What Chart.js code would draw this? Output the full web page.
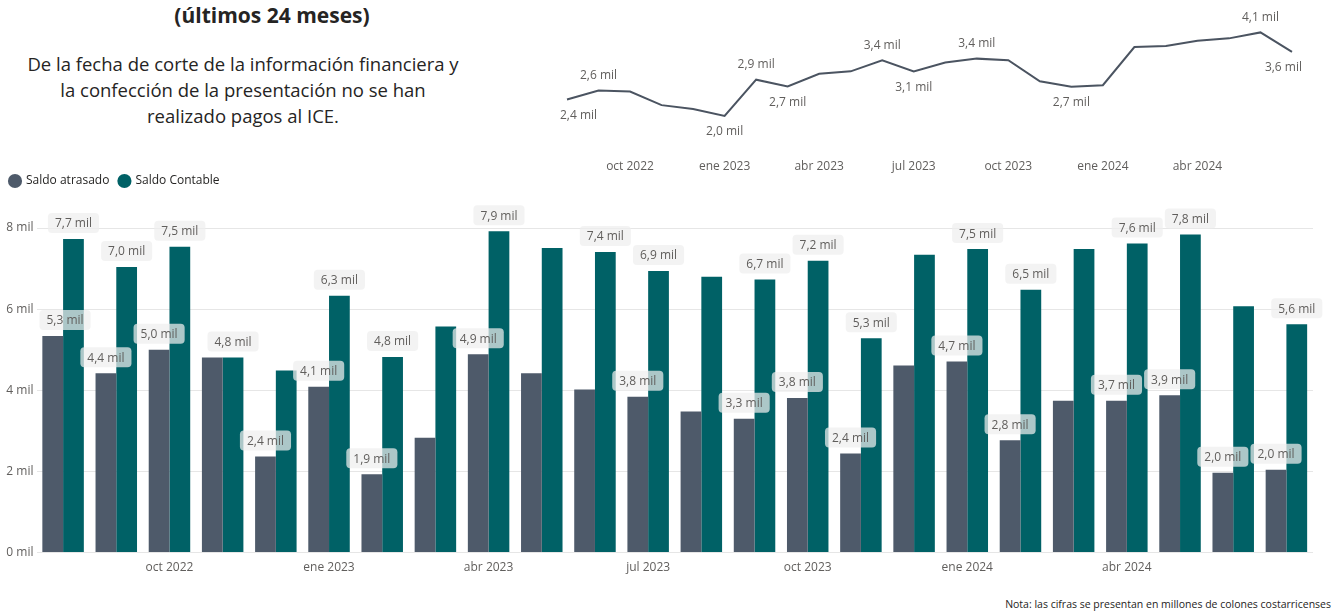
<!DOCTYPE html>
<html lang="es">
<head>
  <meta charset="UTF-8">
  <title>Saldo atrasado y Saldo Contable (últimos 24 meses)</title>
  <script src="https://cdn.jsdelivr.net/npm/chart.js"></script>
  <style>
    body { margin: 0; background: #ffffff; font-family: 'Segoe UI', 'Open Sans', sans-serif; }
    .page { position: relative; width: 1338px; height: 614px; overflow: hidden; }
    .titulo { position: absolute; left: 100px; width: 344px; top: 1px; text-align: center; font-size: 21px; font-weight: bold; color: #252423; }
    .texto { position: absolute; left: 0; width: 486px; top: 51px; text-align: center; font-size: 18.5px; line-height: 26px; color: #252423; }
    .nota { position: absolute; right: 7px; top: 597px; font-size: 10.5px; color: #252423; }
    #lineaCanvas { position: absolute; left: 540px; top: 0; }
    #barrasCanvas { position: absolute; left: 0; top: 165px; }
  </style>
</head>
<body>
<div class="page">
  <div class="titulo">(últimos 24 meses)</div>
  <div class="texto">De la fecha de corte de la información financiera y<br>la confección de la presentación no se han<br>realizado pagos al ICE.</div>
  <canvas id="lineaCanvas" width="780" height="185"></canvas>
  <canvas id="barrasCanvas" width="1338" height="420"></canvas>
  <div class="nota">Nota: las cifras se presentan en millones de colones costarricenses</div>
</div>

<script>
  const meses = ['ago 2022', 'sep 2022', 'oct 2022', 'nov 2022', 'dic 2022', 'ene 2023', 'feb 2023', 'mar 2023',
    'abr 2023', 'may 2023', 'jun 2023', 'jul 2023', 'ago 2023', 'sep 2023', 'oct 2023', 'nov 2023',
    'dic 2023', 'ene 2024', 'feb 2024', 'mar 2024', 'abr 2024', 'may 2024', 'jun 2024', 'jul 2024'];
  const mesesEje = ['oct 2022', 'ene 2023', 'abr 2023', 'jul 2023', 'oct 2023', 'ene 2024', 'abr 2024'];

  // miles de millones
  const saldoAtrasado = [5.34, 4.42, 5.0, 4.81, 2.37, 4.09, 1.93, 2.83, 4.89, 4.42, 4.02, 3.84,
    3.48, 3.30, 3.81, 2.44, 4.61, 4.71, 2.77, 3.74, 3.74, 3.88, 1.97, 2.04];
  const saldoContable = [7.73, 7.04, 7.54, 4.81, 4.49, 6.33, 4.82, 5.57, 7.92, 7.51, 7.41, 6.94,
    6.80, 6.73, 7.19, 5.28, 7.34, 7.48, 6.48, 7.48, 7.62, 7.84, 6.07, 5.63];
  const lineaSuperior = [2.41, 2.64, 2.61, 2.27, 2.17, 2.00, 2.91, 2.74, 3.06, 3.12, 3.40, 3.12,
    3.34, 3.44, 3.40, 2.87, 2.73, 2.77, 3.73, 3.76, 3.89, 3.95, 4.10, 3.61];

  // etiquetas visibles (las demás quedan ocultas por solapamiento)
  const etiquetasAtrasado = [0, 1, 2, 4, 5, 6, 8, 11, 13, 14, 15, 17, 18, 20, 21, 22, 23];
  const etiquetasContable = [0, 1, 2, 3, 5, 6, 8, 10, 11, 13, 14, 15, 17, 18, 20, 21, 23];
  const lineaArriba = [1, 6, 10, 13, 22];
  const lineaAbajo = [0, 5, 7, 11, 16, 23];

  const FUENTE = "'Segoe UI', 'Open Sans', sans-serif";
  const fmt = v => v.toFixed(1).replace('.', ',') + ' mil';
  const tickMes = i => mesesEje.includes(meses[i]) ? meses[i] : '';

  function caja(ctx, x, y, w, h, r) {
    ctx.beginPath();
    if (ctx.roundRect) ctx.roundRect(x, y, w, h, r); else ctx.rect(x, y, w, h);
    ctx.fill();
  }

  const etiquetasBarras = {
    id: 'etiquetasBarras',
    beforeInit(chart) {
      const fit = chart.legend.fit;
      chart.legend.fit = function () { fit.call(this); this.height += 31; };
    },
    afterDatasetsDraw(chart) {
      const ctx = chart.ctx, area = chart.chartArea;
      ctx.save();
      ctx.font = '12px ' + FUENTE;
      ctx.textAlign = 'center';
      ctx.textBaseline = 'middle';
      chart.data.datasets.forEach((ds, di) => {
        const meta = chart.getDatasetMeta(di);
        ds.mostrar.forEach(i => {
          const el = meta.data[i];
          const txt = fmt(ds.data[i]);
          const w = ctx.measureText(txt).width + 14, h = 20;
          const x = Math.max(el.x, area.left + 3 + w / 2);
          const y = el.y - 6 - h / 2;
          ctx.fillStyle = 'rgba(238,238,238,0.72)';
          caja(ctx, x - w / 2, y - h / 2, w, h, 4);
          ctx.fillStyle = '#605e5c';
          ctx.fillText(txt, x, y + 1);
        });
      });
      ctx.restore();
    }
  };

  const etiquetasLinea = {
    id: 'etiquetasLinea',
    afterDatasetsDraw(chart) {
      const ctx = chart.ctx, area = chart.chartArea;
      const pts = chart.getDatasetMeta(0).data;
      ctx.save();
      ctx.font = '12px ' + FUENTE;
      ctx.textAlign = 'center';
      ctx.textBaseline = 'middle';
      ctx.fillStyle = '#605e5c';
      const poner = (i, dy) => {
        const txt = fmt(lineaSuperior[i]);
        const hw = ctx.measureText(txt).width / 2;
        let x = Math.max(pts[i].x, area.left - 7 + hw);
        x = Math.min(x, area.right + 10 - hw);
        ctx.fillText(txt, x, pts[i].y + dy);
      };
      lineaArriba.forEach(i => poner(i, -15));
      lineaAbajo.forEach(i => poner(i, 16));
      ctx.restore();
    }
  };

  new Chart(document.getElementById('lineaCanvas'), {
    type: 'line',
    data: {
      labels: meses,
      datasets: [{ data: lineaSuperior, borderColor: '#4b5461', borderWidth: 2, pointRadius: 0, tension: 0, fill: false }]
    },
    options: {
      responsive: false,
      animation: false,
      layout: { padding: { left: 27, right: 28, top: 16.5, bottom: 7 } },
      plugins: { legend: { display: false }, tooltip: { enabled: false } },
      scales: {
        x: {
          grid: { display: false, drawTicks: false },
          border: { display: false },
          ticks: { autoSkip: false, maxRotation: 0, padding: 4, color: '#605e5c', font: { size: 12, family: FUENTE }, callback: (v, i) => tickMes(i) }
        },
        y: { display: false, min: 1, max: 4.5 }
      }
    },
    plugins: [etiquetasLinea]
  });

  new Chart(document.getElementById('barrasCanvas'), {
    type: 'bar',
    data: {
      labels: meses,
      datasets: [
        { label: 'Saldo atrasado', data: saldoAtrasado, backgroundColor: '#4e5a6a', mostrar: etiquetasAtrasado, barPercentage: 1, categoryPercentage: 0.78 },
        { label: 'Saldo Contable', data: saldoContable, backgroundColor: '#006166', mostrar: etiquetasContable, barPercentage: 1, categoryPercentage: 0.78 }
      ]
    },
    options: {
      responsive: false,
      animation: false,
      layout: { padding: { left: 0, right: 25, top: 0, bottom: 2 } },
      plugins: {
        tooltip: { enabled: false },
        legend: {
          position: 'top',
          align: 'start',
          labels: { usePointStyle: true, pointStyle: 'circle', boxWidth: 10, boxHeight: 10, padding: 10, color: '#252423', font: { size: 12, family: FUENTE } }
        }
      },
      scales: {
        x: {
          grid: { display: false, drawTicks: false },
          border: { display: false },
          ticks: { autoSkip: false, maxRotation: 0, padding: 8, color: '#605e5c', font: { size: 12, family: FUENTE }, callback: (v, i) => tickMes(i) }
        },
        y: {
          min: 0, max: 8,
          afterFit: s => { s.width = 36.5; },
          grid: { color: '#e6e6e6', drawTicks: false },
          border: { display: false },
          ticks: { stepSize: 2, padding: 3, color: '#605e5c', font: { size: 12, family: FUENTE }, callback: v => v + ' mil' }
        }
      }
    },
    plugins: [etiquetasBarras]
  });
</script>
</body>
</html>
